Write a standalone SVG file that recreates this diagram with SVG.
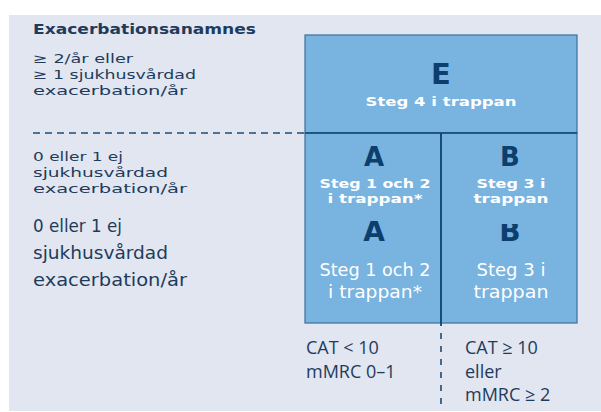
<svg xmlns="http://www.w3.org/2000/svg" width="601" height="412" viewBox="0 0 601 412">
<style>
.t{font-family:"DejaVu Sans","Noto Sans",sans-serif;fill:#1f3b5c}
.sm{font-size:13px;font-weight:500}
.hd{font-size:13.5px;font-weight:700}
.lg{font-size:18px;font-weight:400}
.lt{font-family:"DejaVu Sans","Noto Sans",sans-serif;fill:#0d3f6e;font-weight:700;text-anchor:middle}
.w{font-family:"DejaVu Sans","Noto Sans",sans-serif;fill:#ffffff;text-anchor:middle}
.ws{font-size:13px;font-weight:700}
.wl{font-size:18.5px;font-weight:500}
.c{font-family:"Open Sans","Liberation Sans",sans-serif;font-size:18px;fill:#1f3b5c}
</style>
<rect x="9" y="15" width="592" height="396" fill="#e1e6f0"/>
<g id="labels-left">
<text class="t hd" x="33" y="34" textLength="223" lengthAdjust="spacingAndGlyphs">Exacerbationsanamnes</text>
<text class="t sm" x="33" y="63" textLength="100" lengthAdjust="spacingAndGlyphs">≥ 2/år eller</text>
<text class="t sm" x="33" y="79" textLength="163" lengthAdjust="spacingAndGlyphs">≥ 1 sjukhusvårdad</text>
<text class="t sm" x="33" y="95" textLength="154" lengthAdjust="spacingAndGlyphs">exacerbation/år</text>
<text class="t sm" x="33" y="161" textLength="90" lengthAdjust="spacingAndGlyphs">0 eller 1 ej</text>
<text class="t sm" x="33" y="177" textLength="135" lengthAdjust="spacingAndGlyphs">sjukhusvårdad</text>
<text class="t sm" x="33" y="193" textLength="154" lengthAdjust="spacingAndGlyphs">exacerbation/år</text>
<text class="t lg" x="33" y="232" textLength="89" lengthAdjust="spacingAndGlyphs">0 eller 1 ej</text>
<text class="t lg" x="33" y="259" textLength="135" lengthAdjust="spacingAndGlyphs">sjukhusvårdad</text>
<text class="t lg" x="33" y="286" textLength="154" lengthAdjust="spacingAndGlyphs">exacerbation/år</text>
</g>
<g id="node-E">
<rect x="305" y="35" width="272" height="98" fill="#79b3e0" stroke="#3d6f9c" stroke-width="1.2"/>
<text class="lt" x="441" y="84" font-size="29">E</text>
<text class="w ws" x="441" y="106" textLength="151" lengthAdjust="spacingAndGlyphs">Steg 4 i trappan</text>
</g>
<g id="node-A">
<rect x="305" y="133" width="136" height="190" fill="#79b3e0" stroke="#3d6f9c" stroke-width="1.2"/>
<text class="lt" x="374" y="241" font-size="28">A</text>
<rect x="306" y="134" width="134" height="87" fill="#79b3e0"/>
<text class="lt" x="374" y="166" font-size="26">A</text>
<text class="w ws" x="375" y="188" textLength="111" lengthAdjust="spacingAndGlyphs">Steg 1 och 2</text>
<text class="w ws" x="375" y="203" textLength="95" lengthAdjust="spacingAndGlyphs">i trappan*</text>
<text class="w wl" x="375" y="276" textLength="111" lengthAdjust="spacingAndGlyphs">Steg 1 och 2</text>
<text class="w wl" x="375" y="298" textLength="94" lengthAdjust="spacingAndGlyphs">i trappan*</text>
</g>
<g id="node-B">
<rect x="441" y="133" width="136" height="190" fill="#79b3e0" stroke="#3d6f9c" stroke-width="1.2"/>
<text class="lt" x="510" y="241" font-size="28">B</text>
<rect x="442" y="134" width="134" height="90" fill="#79b3e0"/>
<text class="lt" x="510" y="166" font-size="26">B</text>
<text class="w ws" x="511" y="188" textLength="69" lengthAdjust="spacingAndGlyphs">Steg 3 i</text>
<text class="w ws" x="511" y="203" textLength="75" lengthAdjust="spacingAndGlyphs">trappan</text>
<text class="w wl" x="511" y="276" textLength="69" lengthAdjust="spacingAndGlyphs">Steg 3 i</text>
<text class="w wl" x="511" y="298" textLength="75" lengthAdjust="spacingAndGlyphs">trappan</text>
</g>
<g id="connectors">
<line x1="33" y1="133" x2="305" y2="133" stroke="#1f4a73" stroke-width="1.5" stroke-dasharray="7,5"/>
<line x1="305" y1="133" x2="577" y2="133" stroke="#0f4874" stroke-width="1.6"/>
<line x1="441" y1="133" x2="441" y2="326" stroke="#0f4874" stroke-width="1.8"/>
<line x1="441" y1="333" x2="441" y2="406" stroke="#1f4a73" stroke-width="1.6" stroke-dasharray="6,7"/>
</g>
<g id="labels-bottom">
<text class="c" x="306" y="354">CAT &lt; 10</text>
<text class="c" x="306" y="378">mMRC 0–1</text>
<text class="c" x="465" y="354">CAT ≥ 10</text>
<text class="c" x="465" y="378">eller</text>
<text class="c" x="465" y="401">mMRC ≥ 2</text>
</g>
</svg>
